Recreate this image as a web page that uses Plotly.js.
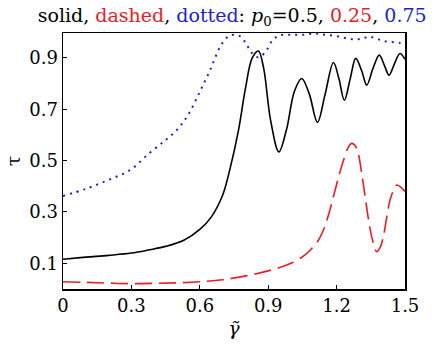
<!DOCTYPE html>
<html><head><meta charset="utf-8">
<script src="https://cdn.plot.ly/plotly-3.0.1.min.js"></script>
<style>html,body{margin:0;padding:0;background:#fff}#chart{width:434px;height:347px}</style>
</head><body><div id="chart"></div>
<script>
const xSolid = [0, 0.1, 0.2, 0.3, 0.38, 0.45, 0.53, 0.6, 0.65, 0.7, 0.733, 0.77, 0.8, 0.83, 0.857, 0.88, 0.91, 0.947, 0.98, 1.015, 1.047, 1.08, 1.116, 1.15, 1.186, 1.21, 1.234, 1.26, 1.284, 1.31, 1.332, 1.36, 1.387, 1.41, 1.43, 1.455, 1.478, 1.5];
const ySolid = [0.116, 0.124, 0.131, 0.14, 0.153, 0.166, 0.19, 0.232, 0.28, 0.365, 0.47, 0.62, 0.78, 0.9, 0.927, 0.86, 0.66, 0.534, 0.62, 0.77, 0.82, 0.76, 0.649, 0.76, 0.882, 0.82, 0.735, 0.82, 0.898, 0.85, 0.794, 0.86, 0.911, 0.87, 0.833, 0.88, 0.917, 0.894];

const xDotted = [0, 0.1, 0.2, 0.294, 0.38, 0.45, 0.5, 0.55, 0.6, 0.645, 0.689, 0.72, 0.747, 0.776, 0.8, 0.82, 0.845, 0.864, 0.893, 0.92, 0.952, 1.0, 1.05, 1.1, 1.15, 1.2, 1.25, 1.288, 1.32, 1.346, 1.375, 1.405, 1.44, 1.478, 1.5];
const yDotted = [0.362, 0.39, 0.425, 0.463, 0.53, 0.58, 0.62, 0.68, 0.768, 0.852, 0.943, 0.98, 0.99, 0.985, 0.96, 0.93, 0.905, 0.904, 0.93, 0.97, 0.988, 0.99, 0.99, 0.995, 0.99, 0.985, 0.975, 0.972, 0.978, 0.982, 0.975, 0.966, 0.962, 0.958, 0.955];

const xDashed = [0, 0.1, 0.2, 0.3, 0.4, 0.5, 0.6, 0.7, 0.82, 0.937, 1.0, 1.05, 1.083, 1.12, 1.142, 1.165, 1.186, 1.21, 1.23, 1.25, 1.266, 1.28, 1.295, 1.31, 1.325, 1.34, 1.354, 1.376, 1.39, 1.405, 1.42, 1.434, 1.45, 1.464, 1.48, 1.5];
const yDashed = [0.028, 0.026, 0.023, 0.021, 0.022, 0.024, 0.028, 0.036, 0.054, 0.08, 0.1, 0.125, 0.15, 0.19, 0.23, 0.29, 0.36, 0.44, 0.5, 0.55, 0.567, 0.56, 0.528, 0.45, 0.36, 0.27, 0.204, 0.145, 0.16, 0.204, 0.28, 0.346, 0.385, 0.405, 0.398, 0.38];

const xTicks = [0, 0.3, 0.6, 0.9, 1.2, 1.5];
const xTickText = ['0', '0.3', '0.6', '0.9', '1.2', '1.5'];
const yTicks = [0.1, 0.3, 0.5, 0.7, 0.9];
const yTickText = ['0.1', '0.3', '0.5', '0.7', '0.9'];

const RED = '#ec1c24', BLUE = '#1e1ed8';
const font = {family: 'DejaVu Serif', size: 18, color: '#000'};

const traces = [
  {x: xDotted, y: yDotted, mode: 'lines', line: {color: BLUE, width: 2, dash: '2px,5px', shape: 'spline'}, hoverinfo: 'skip'},
  {x: xDashed, y: yDashed, mode: 'lines', line: {color: RED, width: 1.6, dash: '17px,7px', shape: 'spline'}, hoverinfo: 'skip'},
  {x: xSolid, y: ySolid, mode: 'lines', line: {color: '#000', width: 1.6, shape: 'spline'}, hoverinfo: 'skip'}
];

const layout = {
  width: 434, height: 347,
  margin: {l: 63, r: 29, t: 33, b: 58, pad: 0},
  paper_bgcolor: '#fff', plot_bgcolor: '#fff',
  showlegend: false,
  font: font,
  title: {
    text: 'solid, <span style="color:' + RED + '">dashed</span>, <span style="color:' + BLUE + '">dotted</span>: <i>p</i><sub>0</sub>=0.5, <span style="color:' + RED + '">0.25</span>, <span style="color:' + BLUE + '">0.75</span>',
    font: {family: 'DejaVu Serif', size: 19, color: '#000'},
    x: 0.535, xanchor: 'center', y: 0.955, yanchor: 'middle'
  },
  xaxis: {
    range: [0, 1.5], tickvals: xTicks, ticktext: xTickText,
    ticks: 'inside', ticklen: 4, tickwidth: 1, tickcolor: '#000',
    showgrid: false, zeroline: false, showline: true, linecolor: '#000', linewidth: 1.5, mirror: true,
    tickfont: font,
    title: {text: '<i>γ̃</i>', font: {family: 'DejaVu Serif', size: 19, color: '#000'}, standoff: 6}
  },
  yaxis: {
    range: [0, 0.997], tickvals: yTicks, ticktext: yTickText,
    ticks: 'inside', ticklen: 4, tickwidth: 1, tickcolor: '#000',
    showgrid: false, zeroline: false, showline: true, linecolor: '#000', linewidth: 1.5, mirror: true,
    tickfont: font,
    title: {text: 'τ', font: {family: 'DejaVu Serif', size: 19, color: '#000'}, standoff: 3}
  }
};

Plotly.newPlot('chart', traces, layout, {staticPlot: true, displayModeBar: false});
</script>
</body></html>
